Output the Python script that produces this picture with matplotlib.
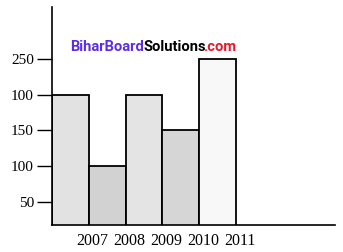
import matplotlib
matplotlib.use("Agg")
import matplotlib.pyplot as plt

years = ["2007", "2008", "2009", "2010", "2011"]
values = [200, 100, 200, 150, 250]
ytick_values = [50, 100, 150, 200, 250]
ytick_labels = ["50", "100", "150", "100", "250"]
bar_colors = ["#e2e2e2", "#d2d2d2", "#e4e4e4", "#d6d6d6", "#f8f8f8"]

fig = plt.figure(figsize=(3.43, 2.52), dpi=100)
ax = fig.add_axes([0.1516, 0.107, 0.977 - 0.1516, 0.972 - 0.107])

x = list(range(len(years)))
ax.bar(x, values, width=1.0, color=bar_colors, edgecolor="black", linewidth=1.3)

ax.set_xlim(-0.5, 7.19)
ax.set_ylim(18, 322)

for s in ["top", "right"]:
    ax.spines[s].set_visible(False)
for s in ["left", "bottom"]:
    ax.spines[s].set_linewidth(1.2)

ax.set_yticks(ytick_values)
ax.set_yticklabels(ytick_labels, family="Liberation Serif", fontsize=11)
ax.tick_params(axis="y", direction="out", length=10.5, width=1.0, pad=2.5)

ax.set_xticks([i + 0.6 for i in x])
ax.set_xticklabels(years, family="Liberation Serif", fontsize=11.5)
ax.tick_params(axis="x", length=0, pad=6)

# watermark text drawn in three coloured pieces, placed one after another
parts = [("BiharBoard", "#5b2ee6"), ("Solutions", "black"), (".com", "#e8192c")]
nudges = [0, 0, -3]
renderer = fig.canvas.get_renderer()
xpos = 70
for (t, c), dx in zip(parts, nudges):
    txt = fig.text((xpos + dx) / 343, 1 - 51 / 252, t, color=c, family="Roboto",
                   fontweight="bold", fontsize=10.6, ha="left", va="baseline")
    bb = txt.get_window_extent(renderer=renderer)
    xpos = bb.x1

fig.savefig("out.png", dpi=100)
